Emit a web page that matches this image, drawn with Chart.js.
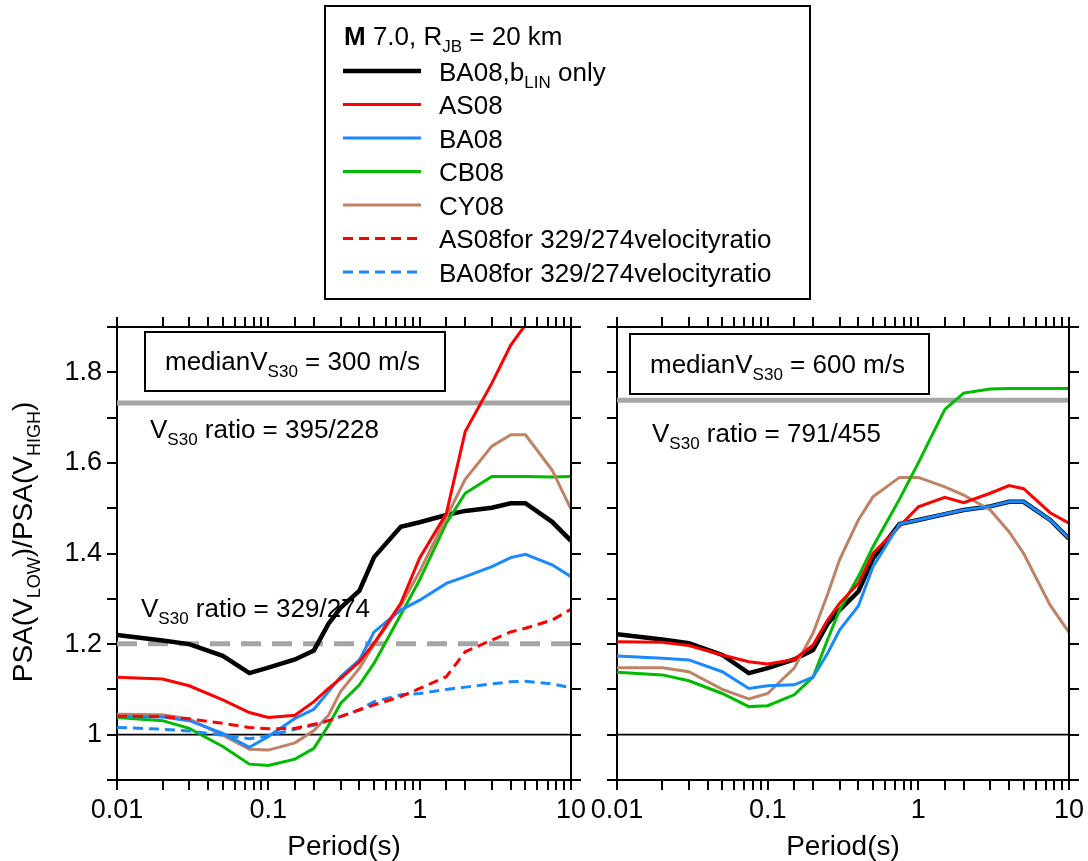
<!DOCTYPE html>
<html>
<head>
<meta charset="utf-8">
<script src="https://cdn.jsdelivr.net/npm/chart.js@4.4.1/dist/chart.umd.min.js"></script>
<style>
  body { margin: 0; background: #fff; }
  #wrap { position: relative; width: 1088px; height: 861px; }
  canvas { position: absolute; left: 0; top: 0; }
</style>
</head>
<body>
<div id="wrap">
  <canvas id="left" width="1088" height="861"></canvas>
  <canvas id="right" width="1088" height="861"></canvas>
</div>
<script>
const periods = [0.01, 0.02, 0.03, 0.05, 0.075, 0.1, 0.15, 0.2, 0.25, 0.3, 0.4, 0.5, 0.75, 1, 1.5, 2, 3, 4, 5, 7.5, 10]
const decadeTicks = [0.01, 0.1, 1, 10]

// median Vs30 = 300 m/s
const blin300 = [1.220, 1.208, 1.200, 1.174, 1.136, 1.148, 1.166, 1.186, 1.245, 1.280, 1.318, 1.392, 1.459, 1.469, 1.485, 1.494, 1.501, 1.511, 1.511, 1.470, 1.428]
const as300 = [1.127, 1.123, 1.108, 1.077, 1.049, 1.038, 1.043, 1.073, 1.102, 1.124, 1.161, 1.202, 1.290, 1.390, 1.488, 1.669, 1.776, 1.860, 1.905, 2.000, 2.080]
const ba300 = [1.040, 1.039, 1.031, 1.003, 0.972, 0.996, 1.036, 1.056, 1.095, 1.128, 1.165, 1.227, 1.275, 1.297, 1.334, 1.349, 1.371, 1.391, 1.398, 1.375, 1.349]
const cb300 = [1.038, 1.031, 1.014, 0.974, 0.935, 0.932, 0.946, 0.970, 1.021, 1.069, 1.110, 1.158, 1.265, 1.342, 1.467, 1.533, 1.570, 1.570, 1.570, 1.569, 1.570]
const cy300 = [1.045, 1.044, 1.035, 0.999, 0.968, 0.966, 0.982, 1.009, 1.043, 1.095, 1.147, 1.200, 1.285, 1.360, 1.480, 1.564, 1.637, 1.662, 1.662, 1.584, 1.498]
const as300low = [1.041, 1.040, 1.035, 1.025, 1.016, 1.013, 1.014, 1.023, 1.031, 1.040, 1.055, 1.066, 1.084, 1.102, 1.128, 1.183, 1.209, 1.227, 1.235, 1.253, 1.277]
const ba300low = [1.016, 1.012, 1.008, 0.999, 0.991, 0.998, 1.012, 1.021, 1.031, 1.040, 1.055, 1.073, 1.088, 1.091, 1.100, 1.105, 1.112, 1.117, 1.118, 1.112, 1.104]

// median Vs30 = 600 m/s
const blin600 = [1.222, 1.210, 1.202, 1.176, 1.136, 1.147, 1.166, 1.187, 1.245, 1.275, 1.316, 1.389, 1.465, 1.474, 1.487, 1.496, 1.504, 1.514, 1.514, 1.474, 1.433]
const as600 = [1.205, 1.204, 1.197, 1.176, 1.161, 1.156, 1.166, 1.198, 1.253, 1.290, 1.334, 1.400, 1.460, 1.503, 1.524, 1.512, 1.533, 1.550, 1.543, 1.490, 1.467]
const ba600 = [1.174, 1.169, 1.165, 1.139, 1.102, 1.108, 1.110, 1.127, 1.180, 1.231, 1.284, 1.371, 1.465, 1.474, 1.487, 1.496, 1.504, 1.514, 1.514, 1.474, 1.433]
const cb600 = [1.138, 1.132, 1.119, 1.091, 1.062, 1.064, 1.088, 1.127, 1.210, 1.275, 1.349, 1.415, 1.520, 1.600, 1.718, 1.754, 1.763, 1.764, 1.764, 1.764, 1.764]
const cy600 = [1.148, 1.148, 1.139, 1.100, 1.079, 1.091, 1.147, 1.224, 1.310, 1.386, 1.474, 1.525, 1.568, 1.568, 1.547, 1.529, 1.496, 1.448, 1.400, 1.286, 1.226]

const ratio300 = 395 / 228
const ratio300low = 329 / 274
const ratio600 = 791 / 455

const FONT = '"Liberation Sans", Arial, sans-serif'

// series look + legend text (runs: [text, 'sub'|'bold'])
const series = {
  blin: { color: '#000000', width: 4.5, dash: [], label: [['BA08,b'], ['LIN', 'sub'], [' only']] },
  as: { color: '#ff0000', width: 3, dash: [], label: [['AS08']] },
  ba: { color: '#1a88ff', width: 3, dash: [], label: [['BA08']] },
  cb: { color: '#00bb00', width: 3, dash: [], label: [['CB08']] },
  cy: { color: '#bf8264', width: 3, dash: [], label: [['CY08']] },
  asLow: { color: '#ff0000', width: 3, dash: [10, 6], label: [['AS08for 329/274velocityratio']] },
  baLow: { color: '#1a88ff', width: 3, dash: [10, 6], label: [['BA08for 329/274velocityratio']] }
}
const legendOrder = ['blin', 'as', 'ba', 'cb', 'cy', 'asLow', 'baLow']

function pts(vals) {
  return periods.map((p, i) => ({ x: p, y: vals[i] }))
}
function flat(v) {
  return [{ x: periods[0], y: v }, { x: periods[periods.length - 1], y: v }]
}
function line(key, vals, order) {
  const s = series[key]
  return { data: pts(vals), borderColor: s.color, borderWidth: s.width, borderDash: s.dash, order: order }
}

function fontFor(kind, size) {
  if (kind === 'sub') return Math.round(size * 0.66) + 'px ' + FONT
  if (kind === 'bold') return 'bold ' + size + 'px ' + FONT
  return size + 'px ' + FONT
}
function runsWidth(ctx, runs, size) {
  let w = 0
  runs.forEach(r => { ctx.font = fontFor(r[1], size); w += ctx.measureText(r[0]).width })
  return w
}
function drawRuns(ctx, runs, x, y, size) {
  runs.forEach(r => {
    ctx.font = fontFor(r[1], size)
    ctx.fillText(r[0], x, r[1] === 'sub' ? y + size * 0.27 : y)
    x += ctx.measureText(r[0]).width
  })
}

function panelPlugin(p) {
  return {
    id: 'panel_' + p.id,
    afterDraw(chart) {
      const ctx = chart.ctx
      const a = chart.chartArea
      const xs = chart.scales.x
      const ys = chart.scales.y
      ctx.save()
      ctx.strokeStyle = '#000'
      ctx.lineWidth = 2
      ctx.setLineDash([])
      // top and right frame with outward ticks
      ctx.beginPath()
      ctx.moveTo(a.left, a.top); ctx.lineTo(a.right, a.top)
      ctx.moveTo(a.right, a.top); ctx.lineTo(a.right, a.bottom)
      xs.ticks.forEach(t => {
        const px = Math.round(xs.getPixelForValue(t.value))
        ctx.moveTo(px, a.top); ctx.lineTo(px, a.top - 10)
      })
      ys.ticks.forEach(t => {
        const py = Math.round(ys.getPixelForValue(t.value))
        ctx.moveTo(a.right, py); ctx.lineTo(a.right + 10, py)
      })
      ctx.stroke()

      ctx.fillStyle = '#000'
      ctx.textBaseline = 'alphabetic'
      // median box
      ctx.strokeRect(p.box[0], p.box[1], p.box[2] - p.box[0], p.box[3] - p.box[1])
      drawRuns(ctx, [['median'], ['V'], ['S30', 'sub'], [' = ' + p.median + ' m/s']], p.medianAt[0], p.medianAt[1], 26)
      p.ratioTexts.forEach(r => {
        drawRuns(ctx, [['V'], ['S30', 'sub'], [' ratio = ' + r.text]], r.at[0], r.at[1], 26)
      })

      // x title
      ctx.font = '28px ' + FONT
      ctx.textAlign = 'center'
      ctx.fillText('Period(s)', (a.left + a.right) / 2, 855)
      ctx.textAlign = 'left'

      if (p.withLegend) {
        // y title
        const yt = [['PSA(V'], ['LOW', 'sub'], [')/PSA(V'], ['HIGH', 'sub'], [')']]
        ctx.save()
        ctx.translate(32, 542)
        ctx.rotate(-Math.PI / 2)
        drawRuns(ctx, yt, -runsWidth(ctx, yt, 28) / 2, 0, 28)
        ctx.restore()

        // legend
        ctx.lineWidth = 2
        ctx.strokeRect(325, 6, 485, 293)
        drawRuns(ctx, [['M', 'bold'], [' 7.0, R'], ['JB', 'sub'], [' = 20 km']], 344, 45, 26)
        legendOrder.forEach((k, i) => {
          const s = series[k]
          const y = 71 + i * 33.5
          ctx.strokeStyle = s.color
          ctx.lineWidth = s.width
          ctx.setLineDash(s.dash)
          ctx.beginPath(); ctx.moveTo(343, y); ctx.lineTo(421, y); ctx.stroke()
          ctx.setLineDash([])
          drawRuns(ctx, s.label, 439, y + 9.5, 26)
        })
      }
      ctx.restore()
    }
  }
}

function makeChart(id, p) {
  return new Chart(document.getElementById(id), {
    type: 'line',
    data: { datasets: p.datasets },
    options: {
      responsive: false,
      animation: false,
      devicePixelRatio: 1,
      layout: { padding: { left: p.padLeft, right: p.padRight, top: 327, bottom: 0 } },
      plugins: { legend: { display: false }, tooltip: { enabled: false } },
      elements: { point: { radius: 0 }, line: { tension: 0, borderCapStyle: 'butt' } },
      scales: {
        x: {
          type: 'logarithmic', min: 0.01, max: 10,
          afterFit: s => { s.height = 81 },
          grid: { drawOnChartArea: false, color: '#000', lineWidth: 2, tickLength: 10 },
          border: { color: '#000', width: 2 },
          ticks: {
            autoSkip: false, maxRotation: 0, padding: 4, color: '#000',
            font: { family: FONT, size: 27 },
            callback: v => {
              const d = decadeTicks.find(t => Math.abs(v / t - 1) < 1e-6)
              return d ? String(d) : ''
            }
          }
        },
        y: {
          min: 0.9, max: 1.9,
          afterFit: s => { s.width = 117 },
          grid: { drawOnChartArea: false, color: '#000', lineWidth: 2, tickLength: 10 },
          border: { color: '#000', width: 2 },
          ticks: {
            stepSize: 0.1, padding: 5, color: '#000',
            font: { family: FONT, size: 27 },
            callback: v => (p.yLabels && Math.round(v * 10) % 2 === 0) ? String(Math.round(v * 10) / 10) : ''
          }
        }
      }
    },
    plugins: [panelPlugin(p)]
  })
}

makeChart('left', {
  id: 'l', padLeft: 0, padRight: 1088 - 571, yLabels: true, withLegend: true,
  median: 300, box: [145, 332, 445, 391], medianAt: [165, 370],
  ratioTexts: [{ text: '395/228', at: [150, 438] }, { text: '329/274', at: [141, 617] }],
  datasets: [
    { data: flat(ratio300), borderColor: '#a6a6a6', borderWidth: 5, order: 20 },
    { data: flat(ratio300low), borderColor: '#a6a6a6', borderWidth: 5, borderDash: [20, 11], order: 19 },
    { data: flat(1), borderColor: '#000', borderWidth: 1.8, order: 18 },
    line('blin', blin300, 10),
    line('cb', cb300, 6),
    line('cy', cy300, 5),
    line('ba', ba300, 4),
    line('as', as300, 3),
    line('baLow', ba300low, 2),
    line('asLow', as300low, 1)
  ]
})

makeChart('right', {
  id: 'r', padLeft: 500, padRight: 1088 - 1071, yLabels: false, withLegend: false,
  median: 600, box: [630, 334, 929, 394], medianAt: [650, 373],
  ratioTexts: [{ text: '791/455', at: [652, 442] }],
  datasets: [
    { data: flat(ratio600), borderColor: '#a6a6a6', borderWidth: 5, order: 20 },
    { data: flat(1), borderColor: '#000', borderWidth: 1.8, order: 18 },
    line('blin', blin600, 10),
    line('cy', cy600, 6),
    line('cb', cb600, 5),
    line('as', as600, 4),
    line('ba', ba600, 3)
  ]
})
</script>
</body>
</html>
